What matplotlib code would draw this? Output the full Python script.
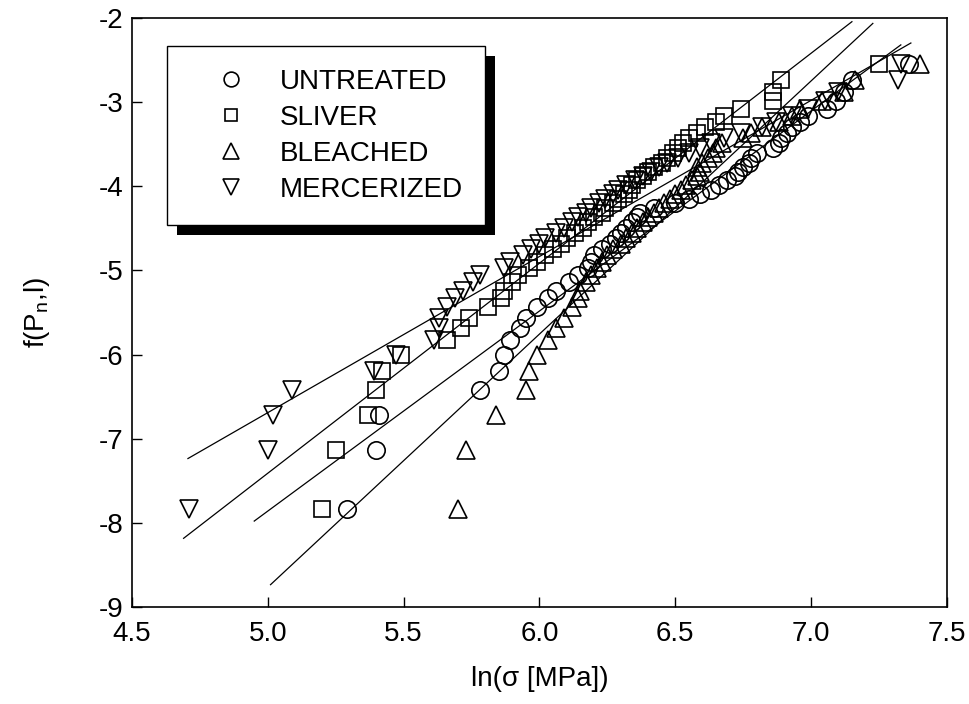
#! /usr/bin/env python

import matplotlib
matplotlib.use('Agg')
import matplotlib.pyplot as plt
from matplotlib.patches import Rectangle
from matplotlib.ticker import MultipleLocator, FormatStrFormatter

# ranked probability levels f(Pn,l), shared by the four series (50 fibres each)
f_levels = [-7.84, -7.14, -6.72, -6.42, -6.19, -6.00, -5.83, -5.69, -5.56, -5.44,
            -5.33, -5.24, -5.14, -5.06, -4.97, -4.90, -4.82, -4.75, -4.68, -4.62,
            -4.55, -4.49, -4.43, -4.37, -4.32, -4.26, -4.20, -4.15, -4.09, -4.04,
            -3.99, -3.93, -3.88, -3.83, -3.77, -3.72, -3.66, -3.61, -3.55, -3.49,
            -3.43, -3.37, -3.30, -3.23, -3.16, -3.08, -2.99, -2.88, -2.74, -2.55]

# ln(sigma) per rank
untreated_x = [5.29, 5.40, 5.41, 5.78, 5.85, 5.87, 5.89, 5.93, 5.95, 5.99,
               6.03, 6.06, 6.11, 6.14, 6.18, 6.19, 6.20, 6.23, 6.26, 6.28,
               6.30, 6.32, 6.34, 6.36, 6.37, 6.42, 6.50, 6.55, 6.59, 6.63,
               6.66, 6.69, 6.72, 6.73, 6.75, 6.77, 6.78, 6.80, 6.86, 6.88,
               6.89, 6.91, 6.93, 6.96, 6.99, 7.06, 7.09, 7.12, 7.15, 7.36]
sliver_x = [5.20, 5.25, 5.37, 5.40, 5.42, 5.49, 5.66, 5.71, 5.74, 5.81,
            5.86, 5.87, 5.90, 5.92, 5.96, 5.99, 6.02, 6.05, 6.08, 6.10,
            6.13, 6.16, 6.18, 6.20, 6.23, 6.24, 6.27, 6.29, 6.31, 6.33,
            6.34, 6.36, 6.38, 6.40, 6.42, 6.45, 6.47, 6.49, 6.51, 6.53,
            6.55, 6.58, 6.61, 6.65, 6.68, 6.74, 6.86, 6.86, 6.89, 7.25]
bleached_x = [5.70, 5.73, 5.84, 5.95, 5.96, 5.99, 6.03, 6.06, 6.09, 6.12,
              6.14, 6.15, 6.17, 6.19, 6.21, 6.23, 6.25, 6.27, 6.30, 6.32,
              6.34, 6.36, 6.38, 6.40, 6.42, 6.44, 6.46, 6.48, 6.50, 6.52,
              6.54, 6.56, 6.58, 6.59, 6.58, 6.60, 6.62, 6.64, 6.65, 6.67,
              6.75, 6.78, 6.82, 6.88, 6.93, 6.96, 7.04, 7.12, 7.16, 7.40]
mercerized_x = [4.71, 5.00, 5.02, 5.09, 5.39, 5.47, 5.61, 5.63, 5.63, 5.66,
                5.69, 5.72, 5.755, 5.78, 5.87, 5.89, 5.94, 5.97, 6.00, 6.02,
                6.06, 6.09, 6.12, 6.14, 6.17, 6.19, 6.22, 6.24, 6.27, 6.29,
                6.32, 6.35, 6.38, 6.41, 6.44, 6.47, 6.51, 6.55, 6.59, 6.63,
                6.68, 6.74, 6.82, 6.87, 6.93, 6.99, 7.05, 7.10, 7.32, 7.33]

labels = ['UNTREATED', 'SLIVER', 'BLEACHED', 'MERCERIZED']
markers = ['o', 's', '^', 'v']
marker_sizes = [12.5, 11, 13, 13]

# Weibull fit lines: slope, intercept, x extent
fit_slope = [2.378, 2.496, 3.009, 1.856]
fit_intercept = [-19.75, -19.89, -23.81, -15.97]
fit_xmin = [4.95, 4.69, 5.01, 4.706]
fit_xmax = [7.33, 7.15, 7.227, 7.367]

plt.rcParams['font.family'] = ['Liberation Sans', 'DejaVu Sans']
plt.rcParams['axes.unicode_minus'] = False

fig = plt.figure(figsize=(9.69, 7.04), dpi=100)
ax = fig.add_axes([0.1362, 0.1378, 0.8411, 0.8366])

series_x = [untreated_x, sliver_x, bleached_x, mercerized_x]
for xs, lab, mk, ms in zip(series_x, labels, markers, marker_sizes):
    ax.plot(xs, f_levels, linestyle='none', marker=mk, markersize=ms,
            markerfacecolor='none', markeredgecolor='black', markeredgewidth=1.2,
            label=lab, zorder=3)

for m, b, x0, x1 in zip(fit_slope, fit_intercept, fit_xmin, fit_xmax):
    ax.plot([x0, x1], [m * x0 + b, m * x1 + b], color='black', linewidth=0.9, zorder=2)

ax.set_xlim(4.5, 7.5)
ax.set_ylim(-9, -2)
ax.xaxis.set_major_locator(MultipleLocator(0.5))
ax.xaxis.set_major_formatter(FormatStrFormatter('%.1f'))
ax.yaxis.set_major_locator(MultipleLocator(1))
ax.tick_params(direction='in', length=7, width=1, labelsize=20, top=False, right=False)
ax.tick_params(axis='x', pad=10)
ax.tick_params(axis='y', pad=6)
for sp in ax.spines.values():
    sp.set_linewidth(1.2)

ax.set_xlabel('ln(\u03c3 [MPa])', fontsize=20, labelpad=14)
ax.set_ylabel('f(P$_\\mathregular{n}$,l)', fontsize=20, labelpad=34)

leg = ax.legend(loc='upper left', bbox_to_anchor=(0.043, 0.952), borderaxespad=0,
                fontsize=20, frameon=True, fancybox=False, edgecolor='black',
                framealpha=1, borderpad=0.8, handlelength=3.0, handletextpad=0.25,
                labelspacing=0.36, markerscale=0.85)
leg.get_frame().set_linewidth(1.0)
leg.set_zorder(5)

# black drop shadow behind the legend box
fig.canvas.draw()
bb = leg.get_window_extent()
shadow = Rectangle((bb.x0 + 10, bb.y0 - 10), bb.width, bb.height, transform=None,
                   facecolor='black', edgecolor='none', clip_on=False, zorder=4.5)
ax.add_patch(shadow)

fig.savefig('out.png', dpi=100)
